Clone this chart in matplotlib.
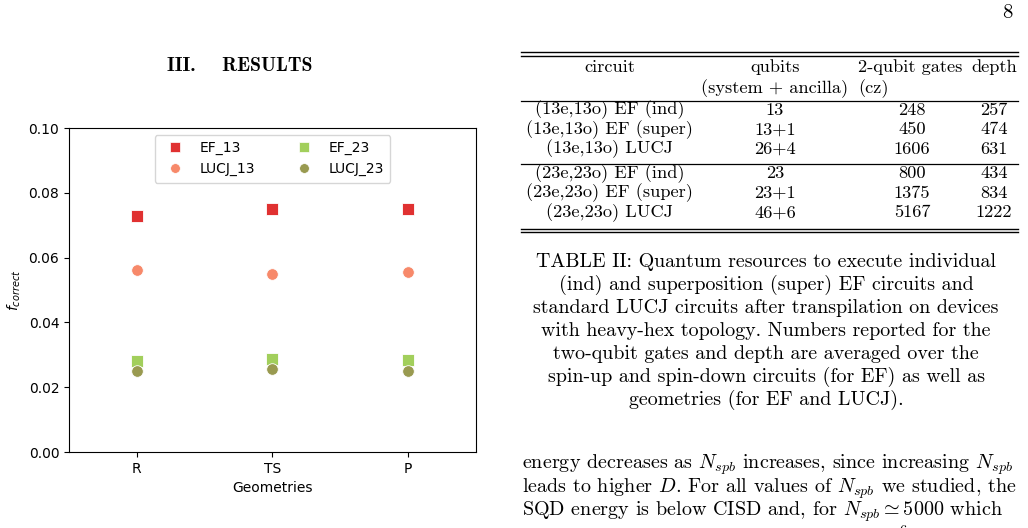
import matplotlib
matplotlib.use("Agg")
import matplotlib.pyplot as plt
from matplotlib.lines import Line2D

# ---------------- data ----------------
geometries = ["R", "TS", "P"]
ef_13 = [0.0728, 0.0750, 0.0749]
lucj_13 = [0.0562, 0.0548, 0.0555]
ef_23 = [0.0281, 0.0287, 0.0283]
lucj_23 = [0.0250, 0.0255, 0.0250]

series_names = ["EF_13", "LUCJ_13", "EF_23", "LUCJ_23"]
series_colors = ["#e03131", "#f7896a", "#a2cf5c", "#999a50"]
series_markers = ["s", "o", "s", "o"]

table_header1 = ["circuit", "qubits", "2-qubit gates", "depth"]
table_header2 = ["", "(system + ancilla)", "(cz)", ""]
table_circuits = ["(13e,13o) EF (ind)", "(13e,13o) EF (super)", "(13e,13o) LUCJ",
                  "(23e,23o) EF (ind)", "(23e,23o) EF (super)", "(23e,23o) LUCJ"]
table_qubits = ["13", "13+1", "26+4", "23", "23+1", "46+6"]
table_gates = ["248", "450", "1606", "800", "1375", "5167"]
table_depth = ["257", "474", "631", "434", "834", "1222"]

caption_lines = [
    "TABLE II: Quantum resources to execute individual",
    "(ind) and superposition (super) EF circuits and",
    "standard LUCJ circuits after transpilation on devices",
    "with heavy-hex topology. Numbers reported for the",
    "two-qubit gates and depth are averaged over the",
    "spin-up and spin-down circuits (for EF) as well as",
    "geometries (for EF and LUCJ).",
]
body_lines = [
    r"energy decreases as $N_{spb}$ increases, since increasing $N_{spb}$",
    r"leads to higher $D$. For all values of $N_{spb}$ we studied, the",
    r"SQD energy is below CISD and, for $N_{spb} \simeq 5000$ which",
    r"gives a subspace dimension of $D \simeq 1.6\times10^6$ it is",
]

# ---------------- figure ----------------
plt.rcParams["mathtext.fontset"] = "cm"
W, H = 1028, 528
fig = plt.figure(figsize=(W / 100, H / 100), dpi=100)


def P(x, y):
    return (x / W, 1 - y / H)


ax = fig.add_axes([69 / W, 1 - 452 / H, 407 / W, 324 / H])
xs = list(range(len(geometries)))
for name, vals, col, mk in zip(series_names, [ef_13, lucj_13, ef_23, lucj_23],
                               series_colors, series_markers):
    ax.scatter(xs, vals, s=70, c=col, marker=mk, edgecolors="white",
               linewidths=0.6, label=name, zorder=3)

ax.set_xlim(-0.5, 2.5)
ax.set_ylim(0, 0.10)
ax.set_xticks(xs)
ax.set_xticklabels(geometries)
ax.set_yticks([0, 0.02, 0.04, 0.06, 0.08, 0.10])
ax.set_yticklabels(["0.00", "0.02", "0.04", "0.06", "0.08", "0.10"])
ax.tick_params(labelsize=10)
ax.set_xlabel("Geometries", fontsize=10)
ax.set_ylabel(r"$f_{correct}$", fontsize=10, math_fontfamily="dejavusans")

handles = [Line2D([], [], linestyle="none", marker=m, color=c, markersize=7,
                  markeredgecolor="white", markeredgewidth=0.5)
           for m, c in zip(series_markers, series_colors)]
ax.legend(handles, series_names, loc="upper center", ncol=2, fontsize=10,
          handletextpad=0.8, columnspacing=2.5, borderpad=0.45, framealpha=0.8)

# ---------------- page text ----------------
serif = "cmr10"
fig.text(*P(1007, 13), "8", family=serif, fontsize=15, ha="center", va="center")
fig.text(*P(240, 66), "III.    RESULTS", family="cmb10", fontsize=14.2,
         ha="center", va="center")

# table rules
tl, tr = 521 / W, 1018 / W
for y, lw in [(52.5, 1.0), (56, 1.0), (101, 0.9), (164, 0.9), (228.5, 1.0), (232, 1.0)]:
    fig.add_artist(Line2D([tl, tr], [1 - y / H, 1 - y / H], color="black", lw=lw))

tfs = 13.2
col_x = [609.5, 775, 912, 994]
fig.text(*P(col_x[0], 67), table_header1[0], family=serif, fontsize=tfs, ha="center", va="center")
fig.text(*P(col_x[1], 67), table_header1[1], family=serif, fontsize=tfs, ha="center", va="center")
fig.text(*P(858, 67), table_header1[2], family=serif, fontsize=tfs, ha="left", va="center")
fig.text(*P(1017, 67), table_header1[3], family=serif, fontsize=tfs, ha="right", va="center")
fig.text(*P(col_x[1], 89), table_header2[1], family=serif, fontsize=tfs, ha="center", va="center")
fig.text(*P(858, 89), table_header2[2], family=serif, fontsize=tfs, ha="left", va="center")

row_y = [110, 129.5, 149, 173.5, 193, 212.5]
for i, y in enumerate(row_y):
    fig.text(*P(col_x[0], y), table_circuits[i], family=serif, fontsize=tfs, ha="center", va="center")
    fig.text(*P(col_x[1], y), table_qubits[i], family=serif, fontsize=tfs, ha="center", va="center")
    fig.text(*P(col_x[2], y), table_gates[i], family=serif, fontsize=tfs, ha="center", va="center")
    fig.text(*P(col_x[3], y), table_depth[i], family=serif, fontsize=tfs, ha="center", va="center")

cfs = 14.4
for i, line in enumerate(caption_lines):
    fig.text(*P(766, 262 + 23 * i), line, family=serif, fontsize=cfs, ha="center", va="center")

for i, line in enumerate(body_lines):
    fig.text(*P(522, 465 + 23.2 * i + (2 if i == 3 else 0)), line, family=serif,
             fontsize=14.5, ha="left", va="center")

fig.savefig("out.png", dpi=100)
